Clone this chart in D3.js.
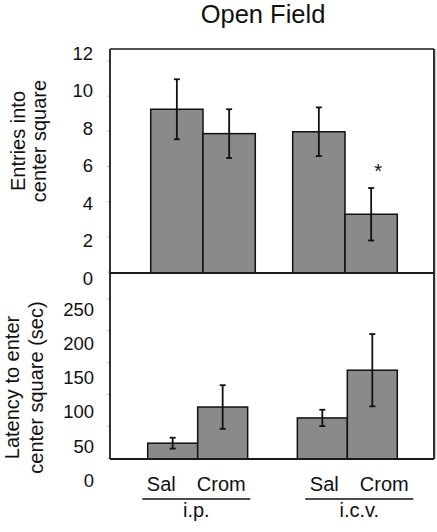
<!DOCTYPE html>
<html><head><meta charset="utf-8">
<script src="https://cdn.jsdelivr.net/npm/d3@7"></script>
<style>body{margin:0;background:#fff}svg{display:block}text{font-family:"Liberation Sans",Arial,Helvetica,sans-serif;fill:#111}</style>
</head><body><svg id="c" width="437" height="532"></svg>
<script>
const groups = ["i.p.", "i.c.v."];
const treatments = ["Sal", "Crom"];
const entriesMean = [9.0, 7.7, 7.8, 3.4];
const entriesErr = [1.6, 1.3, 1.3, 1.4];
const latencyMean = [54, 107, 91, 161];
const latencyErr = [8, 32, 12, 53];
const entriesTicks = [0, 2, 4, 6, 8, 10, 12];
const latencyTicks = [0, 50, 100, 150, 200, 250];
const sigFlags = [false, false, false, true];

const svg = d3.select("#c");
const L = 110, R = 434, T = 49, M = 273, B = 459;

// y scales (as labelled)
const yTop = d3.scaleLinear().domain([0, 12]).range([278, 53]);
const yBot = d3.scaleLinear().domain([0, 250]).range([480, 309.5]);
// faint tick marks scales
const tTop = d3.scaleLinear().domain([0, 12]).range([272, 61]);
const tBot = d3.scaleLinear().domain([0, 250]).range([458, 299]);

// x scales
const gTop = d3.scaleBand().domain(groups).range([150.7, 397.3]).paddingInner(0.2634);
const gBot = d3.scaleBand().domain(groups).range([147.7, 397.3]).paddingInner(0.332);
const gLab = d3.scaleBand().domain(groups).range([142.3, 413.3]).paddingInner(0.3374);
function inner(g){ return d3.scaleBand().domain(treatments).range([0, g.bandwidth()]); }

const rows = [];
groups.forEach((g, gi) => treatments.forEach((t, ti) => rows.push({g, t, i: gi*2+ti})));

// title
svg.append("text").attr("x", 263).attr("y", 22.5).attr("text-anchor", "middle")
  .attr("font-size", 25.5).text("Open Field");

// y labels
function ylab(lines, xs, cy){
  lines.forEach((s, k) => svg.append("text")
    .attr("transform", `translate(${xs[k]},${cy}) rotate(-90)`)
    .attr("text-anchor", "middle").attr("font-size", 20).text(s));
}
ylab(["Entries into", "center square"], [25, 46], 141);
ylab(["Latency to enter", "center square (sec)"], [18.5, 43], 387.5);

// tick labels
entriesTicks.forEach(v => svg.append("text").attr("x", 93).attr("y", yTop(v)).attr("dy", "0.36em")
  .attr("text-anchor", "end").attr("font-size", 18.5).text(v));
latencyTicks.forEach(v => svg.append("text").attr("x", 94).attr("y", yBot(v)).attr("dy", "0.36em")
  .attr("text-anchor", "end").attr("font-size", 18.5).text(v));

// faint ticks
entriesTicks.forEach(v => svg.append("line").attr("x1", 107).attr("x2", 110)
  .attr("y1", tTop(v)).attr("y2", tTop(v)).attr("stroke", "#bbb").attr("stroke-width", 1));
latencyTicks.forEach(v => svg.append("line").attr("x1", 107).attr("x2", 110)
  .attr("y1", tBot(v)).attr("y2", tBot(v)).attr("stroke", "#bbb").attr("stroke-width", 1));

function panel(gs, y, means, errs, base){
  const ib = inner(gs);
  const gEl = svg.append("g");
  rows.forEach(r => {
    const x0 = gs(r.g) + ib(r.t), w = ib.bandwidth();
    const yv = y(means[r.i]);
    gEl.append("rect").attr("x", x0).attr("y", yv).attr("width", w).attr("height", base - yv)
      .attr("fill", "#8a8a8a").attr("stroke", "#111").attr("stroke-width", 1.5);
    const cx = x0 + w/2, y1 = y(means[r.i] + errs[r.i]), y2 = y(means[r.i] - errs[r.i]);
    gEl.append("line").attr("x1", cx).attr("x2", cx).attr("y1", y1).attr("y2", y2)
      .attr("stroke", "#111").attr("stroke-width", 1.8);
    [y1, y2].forEach(yy => gEl.append("line").attr("x1", cx-3).attr("x2", cx+3)
      .attr("y1", yy).attr("y2", yy).attr("stroke", "#111").attr("stroke-width", 1.8));
  });
  return ib;
}
const ibTop = panel(gTop, yTop, entriesMean, entriesErr, M);
panel(gBot, yBot, latencyMean, latencyErr, B);

// significance star
rows.forEach(r => {
  if (!sigFlags[r.i]) return;
  const cx = gTop(r.g) + ibTop(r.t) + ibTop.bandwidth()/2;
  svg.append("text").attr("x", cx + 7).attr("y", yTop(entriesMean[r.i] + entriesErr[r.i]) - 10)
    .attr("text-anchor", "middle").attr("font-size", 20).text("*");
});

// frame
const fr = svg.append("g").attr("stroke", "#1a1a1a").attr("stroke-width", 1.8).attr("fill", "none");
fr.append("line").attr("x1", L).attr("x2", R).attr("y1", T).attr("y2", T).attr("stroke-width", 1.4);
fr.append("line").attr("x1", L).attr("x2", R).attr("y1", M).attr("y2", M);
fr.append("line").attr("x1", L).attr("x2", R).attr("y1", B).attr("y2", B);
fr.append("line").attr("x1", L).attr("x2", L).attr("y1", T).attr("y2", B);
fr.append("line").attr("x1", R).attr("x2", R).attr("y1", T).attr("y2", B);
svg.append("line").attr("x1", R+1.8).attr("x2", R+1.8).attr("y1", T).attr("y2", B)
  .attr("stroke", "#bbb").attr("stroke-width", 1);

// category labels
groups.forEach(g => {
  const x0 = gLab(g), w = gLab.bandwidth(), cx = x0 + w/2;
  svg.append("text").attr("x", cx - 35).attr("y", 491).attr("text-anchor", "middle")
    .attr("font-size", 20).text(treatments[0]);
  svg.append("text").attr("x", cx + 25).attr("y", 491).attr("text-anchor", "middle")
    .attr("font-size", 20).text(treatments[1]);
  svg.append("line").attr("x1", x0).attr("x2", x0 + w).attr("y1", 499).attr("y2", 499)
    .attr("stroke", "#111").attr("stroke-width", 1.3);
  svg.append("text").attr("x", cx).attr("y", 517).attr("text-anchor", "middle")
    .attr("font-size", 20).text(g);
});
</script></body></html>
